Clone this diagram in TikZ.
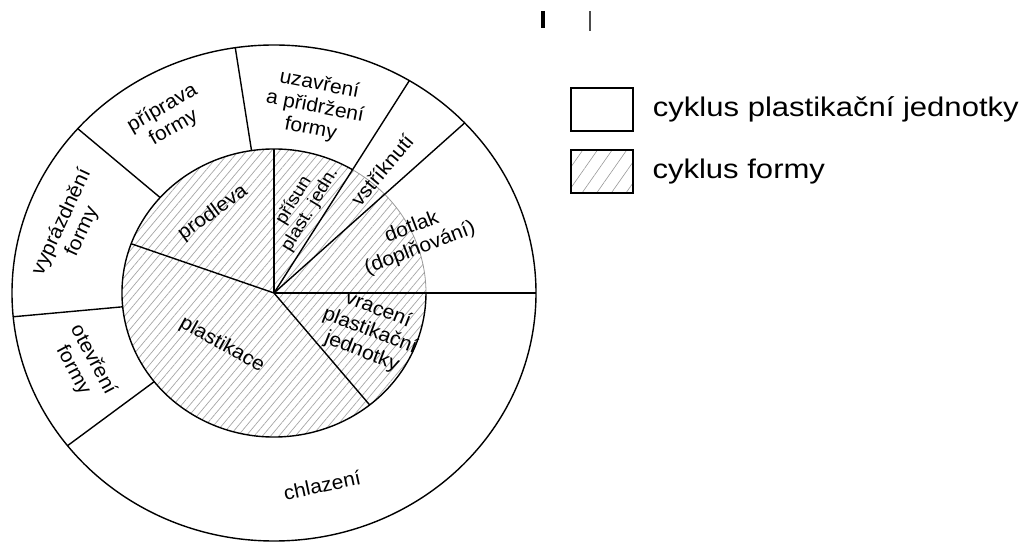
\documentclass[tikz,border=0pt]{standalone}
\usepackage{fontspec}
\setmainfont{Liberation Sans}
\newfontfamily\lblfont[FakeStretch=1.05]{Liberation Sans}
\newfontfamily\legfont[FakeStretch=1.15]{Liberation Sans}
\usetikzlibrary{patterns.meta}

\begin{document}
\begin{tikzpicture}[
			nodes = {
				align = center
			},
			lbl/.style={
				inner sep=0pt,
				font=\lblfont\fontsize{20}{22.5}\selectfont
			},
			sep/.style={
				line width=1.4pt
			},
			hatch/.style={
				pattern={Lines[angle=50,distance=6.3pt,line width=0.7pt]},
				pattern color=black!35
			},
			legbox/.style={
				draw,
				line width=1.4pt,
				rectangle,
				minimum width=62pt,
				minimum height=43pt
			},
			legtext/.style={
				anchor=west,
				inner sep=0pt,
				font=\legfont\fontsize{27}{30}\selectfont
			}
		]
			\useasboundingbox (-274pt,-250pt) rectangle (762pt,293pt);

			% centre and the two rings
			\coordinate (c) at (0,0);
			\fill[hatch] (c) ellipse [x radius=152pt, y radius=144pt];
			\draw[sep] (c) ellipse [x radius=262pt, y radius=248pt];
			\draw[sep] (59:152pt and 144pt) arc [start angle=59, end angle=360, x radius=152pt, y radius=144pt];
			\draw[line width=0.8pt, black!40] (0:152pt and 144pt) arc [start angle=0, end angle=59, x radius=152pt, y radius=144pt];

			% end points of the dividing lines
			\coordinate (o0) at (0:262pt and 248pt);
			\coordinate (o1) at (43.3:262pt and 248pt);
			\coordinate (o2) at (58.9:262pt and 248pt);
			\coordinate (o3) at (98.5:262pt and 248pt);
			\coordinate (o4) at (138.5:262pt and 248pt);
			\coordinate (o5) at (185.5:262pt and 248pt);
			\coordinate (o6) at (218:262pt and 248pt);
			\coordinate (i3) at (98.5:152pt and 144pt);
			\coordinate (i4) at (138.5:152pt and 144pt);
			\coordinate (i5) at (185.5:152pt and 144pt);
			\coordinate (i6) at (218:152pt and 144pt);
			\coordinate (j1) at (90:152pt and 144pt);
			\coordinate (j2) at (160:152pt and 144pt);
			\coordinate (j3) at (309:152pt and 144pt);

			\draw[sep] (c) -- (o0);
			\draw[sep] (c) -- (o1);
			\draw[sep] (c) -- (o2);
			\draw[sep] (i3) -- (o3);
			\draw[sep] (i4) -- (o4);
			\draw[sep] (i5) -- (o5);
			\draw[sep] (i6) -- (o6);
			\draw[sep] (c) -- (j1);
			\draw[sep] (c) -- (j2);
			\draw[sep] (c) -- (j3);

			% outer ring: cyklus plastikacni jednotky
			\node[lbl, rotate=-11] (uza) at (41pt,186pt) {uzavření\\a přidržení\\formy};
			\node[lbl, rotate=30] (pri) at (-106pt,175pt) {příprava\\formy};
			\node[lbl, rotate=65] (vyp) at (-202pt,66pt) {vyprázdnění\\formy};
			\node[lbl, rotate=-62] (ote) at (-191pt,-72pt) {otevření\\formy};
			\node[lbl, rotate=12] (chl) at (48pt,-192pt) {chlazení};
			\node[lbl, rotate=50] (vst) at (108pt,123pt) {vstříknutí};
			\node[lbl, rotate=21] (dot) at (142pt,55pt) {dotlak\\(doplňování)};

			% inner disc: cyklus formy
			\node[lbl, rotate=59, font=\lblfont\fontsize{18}{19}\selectfont] (prs) at (28pt,88pt) {přísun\\plast. jedn.};
			\node[lbl, rotate=36] (pro) at (-61pt,80pt) {prodleva};
			\node[lbl, rotate=-29] (pla) at (-52pt,-52pt) {plastikace};
			\node[lbl, rotate=-21] (vra) at (96pt,-38pt) {vracení\\plastikační\\jednotky};

			% legend
			\node[legbox] (k1) at (328pt,183.5pt) {};
			\node[legbox, pattern={Lines[angle=55,distance=12pt,line width=0.6pt]}, pattern color=black!40] (k2) at (328pt,121.5pt) {};
			\node[legtext] (t1) at ([xshift=19pt]k1.east) {cyklus plastikační jednotky};
			\node[legtext] (t2) at ([xshift=19pt]k2.east) {cyklus formy};

			% two marks at the top
			\draw[line width=3.5pt] (269pt,282pt) -- (269pt,265pt);
			\draw[line width=2pt, black!70] (316pt,282pt) -- (316pt,262pt);

		\end{tikzpicture}
\end{document}
